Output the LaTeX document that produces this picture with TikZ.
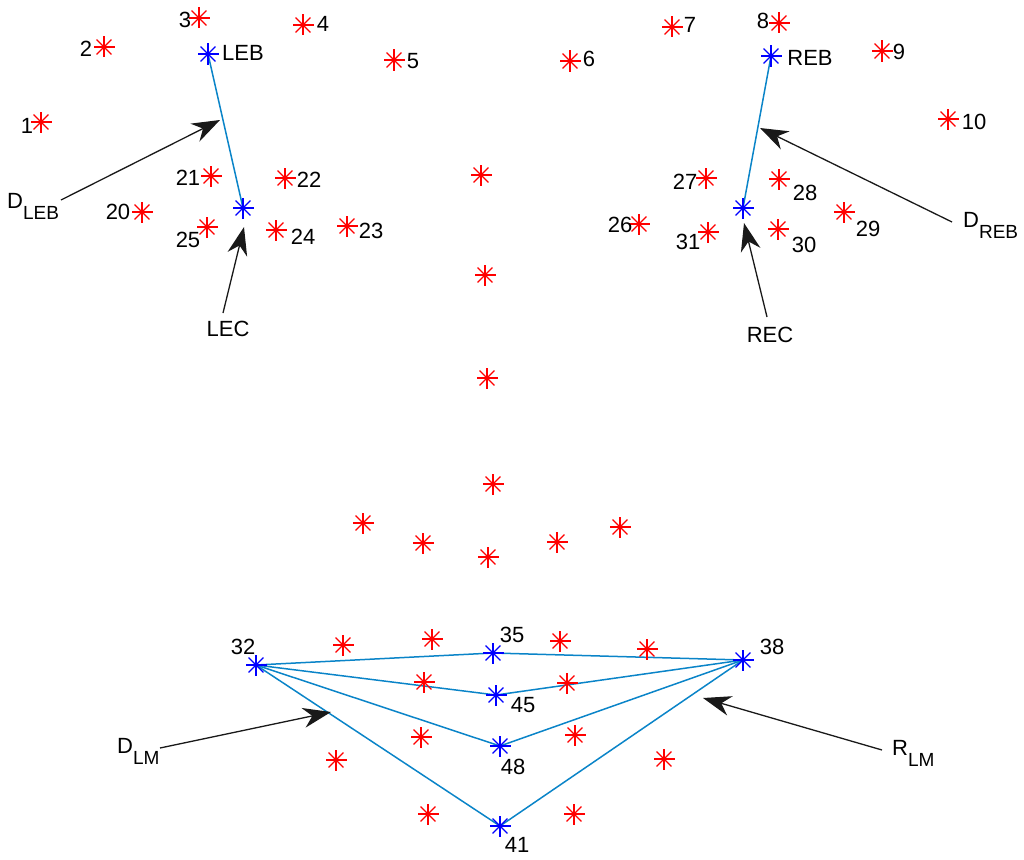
\documentclass[tikz,border=0pt]{standalone}
\usepackage{fontspec}
\setmainfont{Liberation Sans}
\usetikzlibrary{arrows.meta}
\definecolor{mblue}{HTML}{0A84C8}
\definecolor{mred}{HTML}{FF0000}
\definecolor{mpt}{HTML}{0000FF}
\newcommand\subl[2]{#1{\fontsize{19}{19}\selectfont\raisebox{-11pt}{#2}}}
\tikzset{
 mk/.style={circle,inner sep=0pt,minimum size=22pt,path picture={\foreach \a in {0,45,...,315}{\draw[#1,line width=1.2pt] (path picture bounding box.center) -- ++(\a:10.5pt);}\fill[#1] (path picture bounding box.center) circle (1.6pt);}},
 rp/.style={mk=mred}, bp/.style={mk=mpt},
 lab/.style={inner sep=0pt,font=\fontsize{22}{22}\selectfont},
 ann/.style={draw=black!90,line width=1.3pt,arrows={-Stealth[length=28pt,width=20pt,inset=9pt]}},
 seg/.style={draw=mblue,line width=1.5pt}
}
\begin{document}
\begin{tikzpicture}[x=1pt,y=-1pt]
\useasboundingbox (0,0) rectangle (1024,859);
% blue connectors first (under markers)
\coordinate (cLEB) at (208,54);
\coordinate (cLEC) at (243,208);
\coordinate (cREB) at (771,56);
\coordinate (cREC) at (743,208);
\coordinate (c32) at (256,665);
\coordinate (c35) at (493,653);
\coordinate (c45) at (496,695);
\coordinate (c48) at (500,746);
\coordinate (c41) at (500,826);
\coordinate (c38) at (743,660);
\draw[seg] (cLEB) -- (cLEC);
\draw[seg] (cREB) -- (cREC);
\draw[seg] (c32) -- (c35) -- (c38);
\draw[seg] (c32) -- (c45) -- (c38);
\draw[seg] (c32) -- (c48) -- (c38);
\draw[seg] (c32) -- (c41) -- (c38);
% red points
\node[rp] (p1) at (41,122) {};
\node[rp] (p2) at (104,47) {};
\node[rp] (p3) at (199,18) {};
\node[rp] (p4) at (303,25) {};
\node[rp] (p5) at (394,60) {};
\node[rp] (p6) at (570,61) {};
\node[rp] (p7) at (672,27) {};
\node[rp] (p8) at (779,23) {};
\node[rp] (p9) at (882,51) {};
\node[rp] (p10) at (948,119) {};
\node[rp] (p20) at (142,212) {};
\node[rp] (p21) at (211,176) {};
\node[rp] (p22) at (285,178) {};
\node[rp] (p23) at (347,226) {};
\node[rp] (p24) at (276,230) {};
\node[rp] (p25) at (207,227) {};
\node[rp] (p26) at (639,224) {};
\node[rp] (p27) at (706,178) {};
\node[rp] (p28) at (779,179) {};
\node[rp] (p29) at (844,212) {};
\node[rp] (p30) at (778,229) {};
\node[rp] (p31) at (708,232) {};
\node[rp] (n1) at (481,175) {};
\node[rp] (n2) at (485,275) {};
\node[rp] (n3) at (487,378) {};
\node[rp] (n4) at (493,484) {};
\node[rp] (s1) at (363,523) {};
\node[rp] (s2) at (423,543) {};
\node[rp] (s3) at (488,557) {};
\node[rp] (s4) at (557,542) {};
\node[rp] (s5) at (620,527) {};
\node[rp] (m1) at (343,645) {};
\node[rp] (m2) at (432,639) {};
\node[rp] (m3) at (560,641) {};
\node[rp] (m4) at (647,649) {};
\node[rp] (m5) at (424,682) {};
\node[rp] (m6) at (567,683) {};
\node[rp] (m7) at (421,737) {};
\node[rp] (m8) at (575,735) {};
\node[rp] (m9) at (336,760) {};
\node[rp] (m10) at (664,759) {};
\node[rp] (m11) at (428,814) {};
\node[rp] (m12) at (574,814) {};
% blue points
\node[bp] (LEB) at (cLEB) {};
\node[bp] (LEC) at (cLEC) {};
\node[bp] (REB) at (cREB) {};
\node[bp] (REC) at (cREC) {};
\node[bp] (b32) at (c32) {};
\node[bp] (b35) at (c35) {};
\node[bp] (b45) at (c45) {};
\node[bp] (b48) at (c48) {};
\node[bp] (b41) at (c41) {};
\node[bp] (b38) at (c38) {};
% labels
\node[lab] (t1) at (27,126) {1};
\node[lab] (t2) at (86,49) {2};
\node[lab] (t3) at (185,20) {3};
\node[lab] (t4) at (323,24) {4};
\node[lab] (t5) at (413,61) {5};
\node[lab] (t6) at (589,59) {6};
\node[lab] (t7) at (690,25) {7};
\node[lab] (t8) at (763,21) {8};
\node[lab] (t9) at (899,52) {9};
\node[lab] (t10) at (974,122) {10};
\node[lab] (t20) at (118,212) {20};
\node[lab] (t21) at (188,178) {21};
\node[lab] (t22) at (309,180) {22};
\node[lab] (t23) at (371,231) {23};
\node[lab] (t24) at (303,237) {24};
\node[lab] (t25) at (188,240) {25};
\node[lab] (t26) at (620,225) {26};
\node[lab] (t27) at (685,182) {27};
\node[lab] (t28) at (805,193) {28};
\node[lab] (t29) at (868,229) {29};
\node[lab] (t30) at (804,245) {30};
\node[lab] (t31) at (688,242) {31};
\node[lab] (tLEB) at (243,53) {LEB};
\node[lab] (tREB) at (810,58) {REB};
\node[lab] (tLEC) at (228,329) {LEC};
\node[lab] (tREC) at (770,335) {REC};
\node[lab] (t32) at (243,647) {32};
\node[lab] (t35) at (512,635) {35};
\node[lab] (t45) at (523,705) {45};
\node[lab] (t48) at (513,767) {48};
\node[lab] (t41) at (517,845) {41};
\node[lab] (t38) at (772,647) {38};
\node[lab,anchor=base west] (tDLEB) at (7,208) {\subl{D}{LEB}};
\node[lab,anchor=base west] (tDREB) at (963,227) {\subl{D}{REB}};
\node[lab,anchor=base west] (tDLM) at (117,753) {\subl{D}{LM}};
\node[lab,anchor=base west] (tRLM) at (892,755) {\subl{R}{LM}};
% annotation arrows
\coordinate (aLEBs) at (61,200);  \coordinate (aLEBe) at (220,120);
\coordinate (aLECs) at (223,313); \coordinate (aLECe) at (244,227);
\coordinate (aRECs) at (767,317); \coordinate (aRECe) at (744,223);
\coordinate (aREBs) at (952,222); \coordinate (aREBe) at (760,128);
\coordinate (aDLMs) at (160,748); \coordinate (aDLMe) at (331,712);
\coordinate (aRLMs) at (882,750); \coordinate (aRLMe) at (703,698);
\draw[ann] (aLEBs) -- (aLEBe);
\draw[ann] (aLECs) -- (aLECe);
\draw[ann] (aRECs) -- (aRECe);
\draw[ann] (aREBs) -- (aREBe);
\draw[ann] (aDLMs) -- (aDLMe);
\draw[ann] (aRLMs) -- (aRLMe);
\end{tikzpicture}
\end{document}
